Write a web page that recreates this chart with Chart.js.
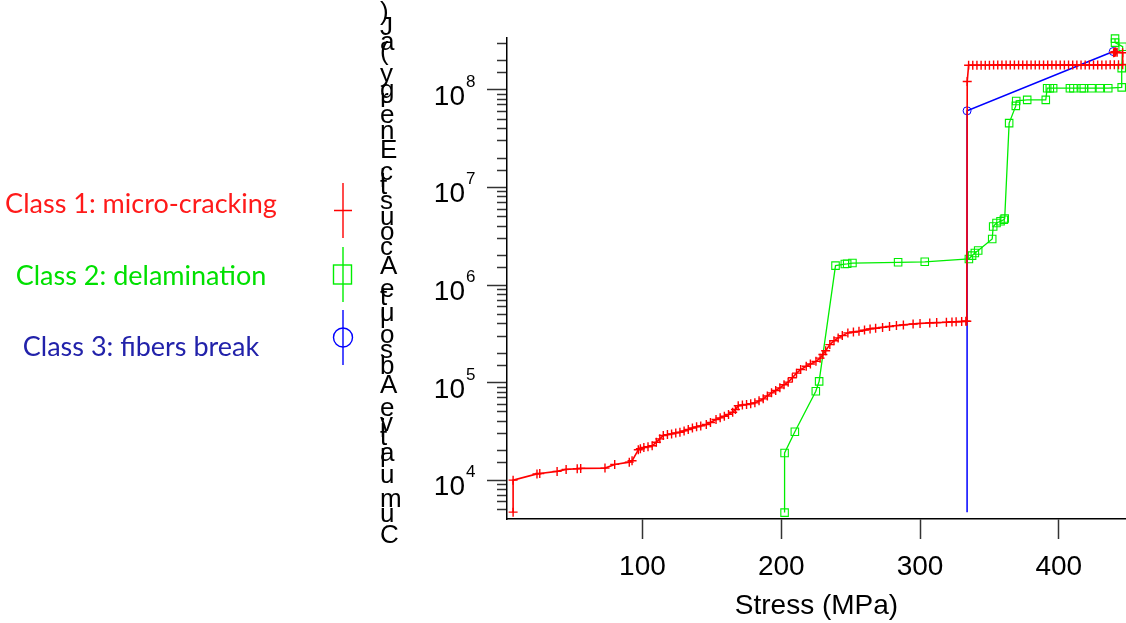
<!DOCTYPE html>
<html>
<head>
<meta charset="utf-8">
<script src="https://cdn.jsdelivr.net/npm/chart.js@4.4.1/dist/chart.umd.min.js"></script>
<style>
html, body { margin: 0; padding: 0; background: #fff; }
#wrap { position: relative; width: 1126px; height: 623px; overflow: hidden; }
#chart { position: absolute; left: 0; top: 0; }
.leg { position: absolute; left: 0; width: 282px; text-align: center; font-family: Lato, sans-serif; font-size: 27px; line-height: 30px; white-space: nowrap; }
#symbols { position: absolute; left: 0; top: 0; }
</style>
</head>
<body>
<div id="wrap">
  <canvas id="chart" width="1126" height="623"></canvas>
  <div id="legend"></div>
</div>
<script>
'use strict';

// legend / series names
var classNames = ['Class 1: micro-cracking', 'Class 2: delamination', 'Class 3: fibers break'];

// Class 1 (micro-cracking): stress (MPa) and cumulative energy (aJ)
var class1Stress = [6.8, 6.8, 24, 26, 38.5, 45, 53, 55.5, 73, 80, 90.5, 92.5, 97, 98.5, 101, 104,
	107, 110, 112.5, 115, 118, 121, 124, 127, 130, 133, 136, 139, 142, 146, 149, 153, 156, 159,
	162, 165, 167, 169, 172, 175, 178, 181, 184, 187, 190, 193, 196, 199, 202, 205, 208, 211,
	214, 218, 221, 225, 228, 230, 232, 235, 238, 241, 244, 248, 252, 256, 260, 264, 268, 273,
	278, 283, 288, 295, 300, 307, 312, 319, 323, 326, 330, 333, 333.7, 334, 335, 338, 341, 344,
	347, 350, 353, 356, 359, 362, 365, 368, 371, 374, 377, 380, 383, 386, 389, 392, 395, 398,
	401, 404, 407, 410, 413, 416, 419, 422, 425, 428, 431, 434, 437, 440, 443, 446, 446, 442,
	441, 440.5, 440, 439.5];
var class1Energy = [4700, 10000, 11600, 11700, 12300, 12900, 13100, 13200, 13300, 14500, 15300,
	15800, 20500, 21000, 21600, 22000, 22500, 24500, 26500, 28700, 29300, 29800, 30500, 31000,
	32000, 33000, 34200, 35200, 36000, 37200, 39000, 41800, 43500, 45200, 47200, 49700, 53000,
	58000, 59000, 59600, 60800, 62000, 65000, 68100, 73000, 78500, 83000, 88300, 95000, 101000,
	112000, 125000, 136000, 147000, 155000, 165000, 178000, 194000, 212000, 245000, 268000,
	287000, 303000, 323000, 330000, 335000, 345000, 355000, 360000, 368000, 376000, 384000,
	390000, 399000, 404000, 409000, 412000, 415000, 419000, 421000, 423000, 425000, 426000,
	1.22e8, 1.79e8, 1.79e8, 1.79e8, 1.79e8, 1.79e8, 1.79e8, 1.8e8, 1.8e8, 1.8e8, 1.8e8, 1.8e8,
	1.8e8, 1.8e8, 1.8e8, 1.8e8, 1.8e8, 1.8e8, 1.8e8, 1.8e8, 1.8e8, 1.8e8, 1.8e8, 1.8e8, 1.8e8,
	1.8e8, 1.8e8, 1.8e8, 1.8e8, 1.8e8, 1.8e8, 1.8e8, 1.8e8, 1.8e8, 1.8e8, 1.81e8, 1.81e8,
	1.81e8, 1.81e8, 2.4e8, 2.43e8, 2.45e8, 2.45e8, 2.42e8, 2.4e8];

// Class 2 (delamination)
var class2Stress = [202.4, 202.4, 209.8, 224.9, 227.3, 239.1, 245.8, 247.5, 251.3, 284.2, 303.4,
	335.2, 337.5, 339.5, 341.9, 352, 352.7, 355.1, 358, 360.4, 361, 364.2, 369, 369.3, 377.2,
	390.6, 391.6, 393.5, 395.9, 408, 410.5, 416.4, 418, 423.6, 429.6, 435.6, 445.3, 445.3, 446,
	440.5, 440.5];
var class2Energy = [4650, 19000, 31300, 81500, 103000, 1.58e6, 1.64e6, 1.65e6, 1.68e6, 1.71e6,
	1.73e6, 1.85e6, 2.0e6, 2.13e6, 2.26e6, 2.96e6, 3.98e6, 4.32e6, 4.5e6, 4.67e6, 4.8e6, 4.56e7,
	6.85e7, 7.7e7, 7.9e7, 7.9e7, 1.04e8, 1.04e8, 1.04e8, 1.04e8, 1.04e8, 1.04e8, 1.04e8, 1.04e8,
	1.04e8, 1.04e8, 1.06e8, 1.67e8, 2.77e8, 3.05e8, 3.35e8];

// Class 3 (fibers break)
var class3Stress = [333.9, 333.9, 439.2];
var class3Energy = [4700, 6.1e7, 2.47e8];

// axes
var xTickValues = [100, 200, 300, 400];
var yTickExponents = [4, 5, 6, 7, 8];
var xTitle = 'Stress (MPa)';
var yTitle = 'Cumulative Absolute Acoustic Energy (aJ)';

var FONT = '"Liberation Sans", Arial, Helvetica, sans-serif';

function toPoints(xs, ys) {
	return xs.map(function (x, i) {
		return { x: x, y: ys[i] };
	});
}

function isPow10(v) {
	var l = Math.log10(v);
	return Math.abs(l - Math.round(l)) < 1e-9;
}

// y axis: "10^n" labels and the odd upright stacked title
var yAxisTextPlugin = {
	id: 'yAxisText',
	afterDraw: function (chart) {
		var ctx = chart.ctx,
			yScale = chart.scales.y,
			y,
			i;

		ctx.save();
		ctx.fillStyle = '#000';
		ctx.textBaseline = 'alphabetic';

		yTickExponents.forEach(function (e) {
			var py = yScale.getPixelForValue(Math.pow(10, e));
			ctx.font = '28px ' + FONT;
			ctx.textAlign = 'right';
			ctx.fillText('10', 465, py + 15);
			ctx.font = '17px ' + FONT;
			ctx.textAlign = 'left';
			ctx.fillText(String(e), 466, py - 3);
		});

		// each character upright, advancing upwards
		ctx.font = '26px ' + FONT;
		ctx.textAlign = 'left';
		y = 543;
		for (i = 0; i < yTitle.length; i++) {
			ctx.fillText(yTitle[i], 380, y);
			y -= ctx.measureText(yTitle[i]).width * 28.5 / 26;
		}
		ctx.restore();
	}
};

Chart.defaults.font.family = FONT;
Chart.defaults.color = '#000';

var chart = new Chart(document.getElementById('chart'), {
	type: 'scatter',
	data: {
		datasets: [{
			label: classNames[0],
			data: toPoints(class1Stress, class1Energy),
			showLine: true,
			borderColor: '#ff0000',
			borderWidth: 1.6,
			pointStyle: 'cross',
			pointRadius: 4.5,
			pointBorderWidth: 1.4,
			pointBorderColor: '#ff0000',
			pointBackgroundColor: '#ff0000',
			clip: false
		}, {
			label: classNames[1],
			data: toPoints(class2Stress, class2Energy),
			showLine: true,
			borderColor: '#00ee00',
			borderWidth: 1.3,
			pointStyle: 'rect',
			pointRadius: 5.3,
			pointBorderWidth: 1.1,
			pointBorderColor: '#00ee00',
			pointBackgroundColor: 'rgba(0,0,0,0)',
			clip: false
		}, {
			label: classNames[2],
			data: toPoints(class3Stress, class3Energy),
			showLine: true,
			borderColor: '#0000ff',
			borderWidth: 1.5,
			pointStyle: 'circle',
			pointRadius: [0, 4, 4],
			pointBorderWidth: 1,
			pointBorderColor: '#0000ff',
			pointBackgroundColor: 'rgba(0,0,0,0)',
			clip: false
		}]
	},
	options: {
		responsive: false,
		animation: false,
		devicePixelRatio: 1,
		layout: {
			autoPadding: false,
			padding: { top: 38, right: 0, bottom: 0, left: 0 }
		},
		plugins: {
			legend: { display: false },
			tooltip: { enabled: false }
		},
		scales: {
			x: {
				type: 'linear',
				min: 2.4,
				max: 448.4,
				afterBuildTicks: function (axis) {
					axis.ticks = xTickValues.map(function (v) {
						return { value: v };
					});
				},
				afterFit: function (axis) {
					axis.height = 104;
				},
				border: { color: '#000', width: 1.5 },
				grid: {
					drawOnChartArea: false,
					drawTicks: true,
					tickLength: 20,
					tickWidth: 1.5,
					tickColor: '#333'
				},
				ticks: {
					autoSkip: false,
					maxRotation: 0,
					padding: 11,
					color: '#000',
					font: { size: 28 }
				},
				title: {
					display: true,
					text: xTitle,
					color: '#000',
					font: { size: 28 },
					padding: { top: 0, bottom: 0 }
				}
			},
			y: {
				type: 'logarithmic',
				min: 4000,
				max: 3.4e8,
				afterBuildTicks: function (axis) {
					axis.ticks = axis.ticks.filter(function (t) {
						return t.value >= 4500 && t.value <= 3.05e8;
					});
				},
				afterFit: function (axis) {
					axis.width = 507;
				},
				border: { color: '#000', width: 1.5 },
				grid: {
					drawOnChartArea: false,
					drawTicks: true,
					tickLength: 20,
					tickWidth: 1.5,
					tickColor: '#333',
					// minor ticks: only the half next to the axis
					tickBorderDash: function (ctx) {
						return ctx.tick && isPow10(ctx.tick.value) ? [] : [10, 10];
					},
					tickBorderDashOffset: function (ctx) {
						return ctx.tick && isPow10(ctx.tick.value) ? 0 : 10;
					}
				},
				ticks: { display: false }
			}
		}
	},
	plugins: [yAxisTextPlugin]
});

// legend: coloured text with a vertical line + marker to its right
(function () {
	var legend = document.getElementById('legend'),
		colors = ['#ff1a1a', '#00e000', '#2222aa'],
		tops = [188, 260, 331],
		svg = '<svg id="symbols" width="400" height="400" xmlns="http://www.w3.org/2000/svg">' +
			'<g fill="none" stroke-width="1.4">' +
			'<path d="M343 183V238M334 210.5H352" stroke="#ff0000"/>' +
			'<path d="M343 247V302" stroke="#00ee00"/>' +
			'<rect x="333.5" y="265" width="18" height="19" stroke="#00ee00"/>' +
			'<path d="M343 310V365" stroke="#0000ff"/>' +
			'<circle cx="343" cy="337.5" r="9.5" stroke="#0000ff"/>' +
			'</g></svg>',
		html = svg;

	classNames.forEach(function (name, i) {
		html += '<div class="leg" style="top:' + tops[i] + 'px;color:' + colors[i] + '">' +
			name + '</div>';
	});
	legend.innerHTML = html;
}());
</script>
</body>
</html>
